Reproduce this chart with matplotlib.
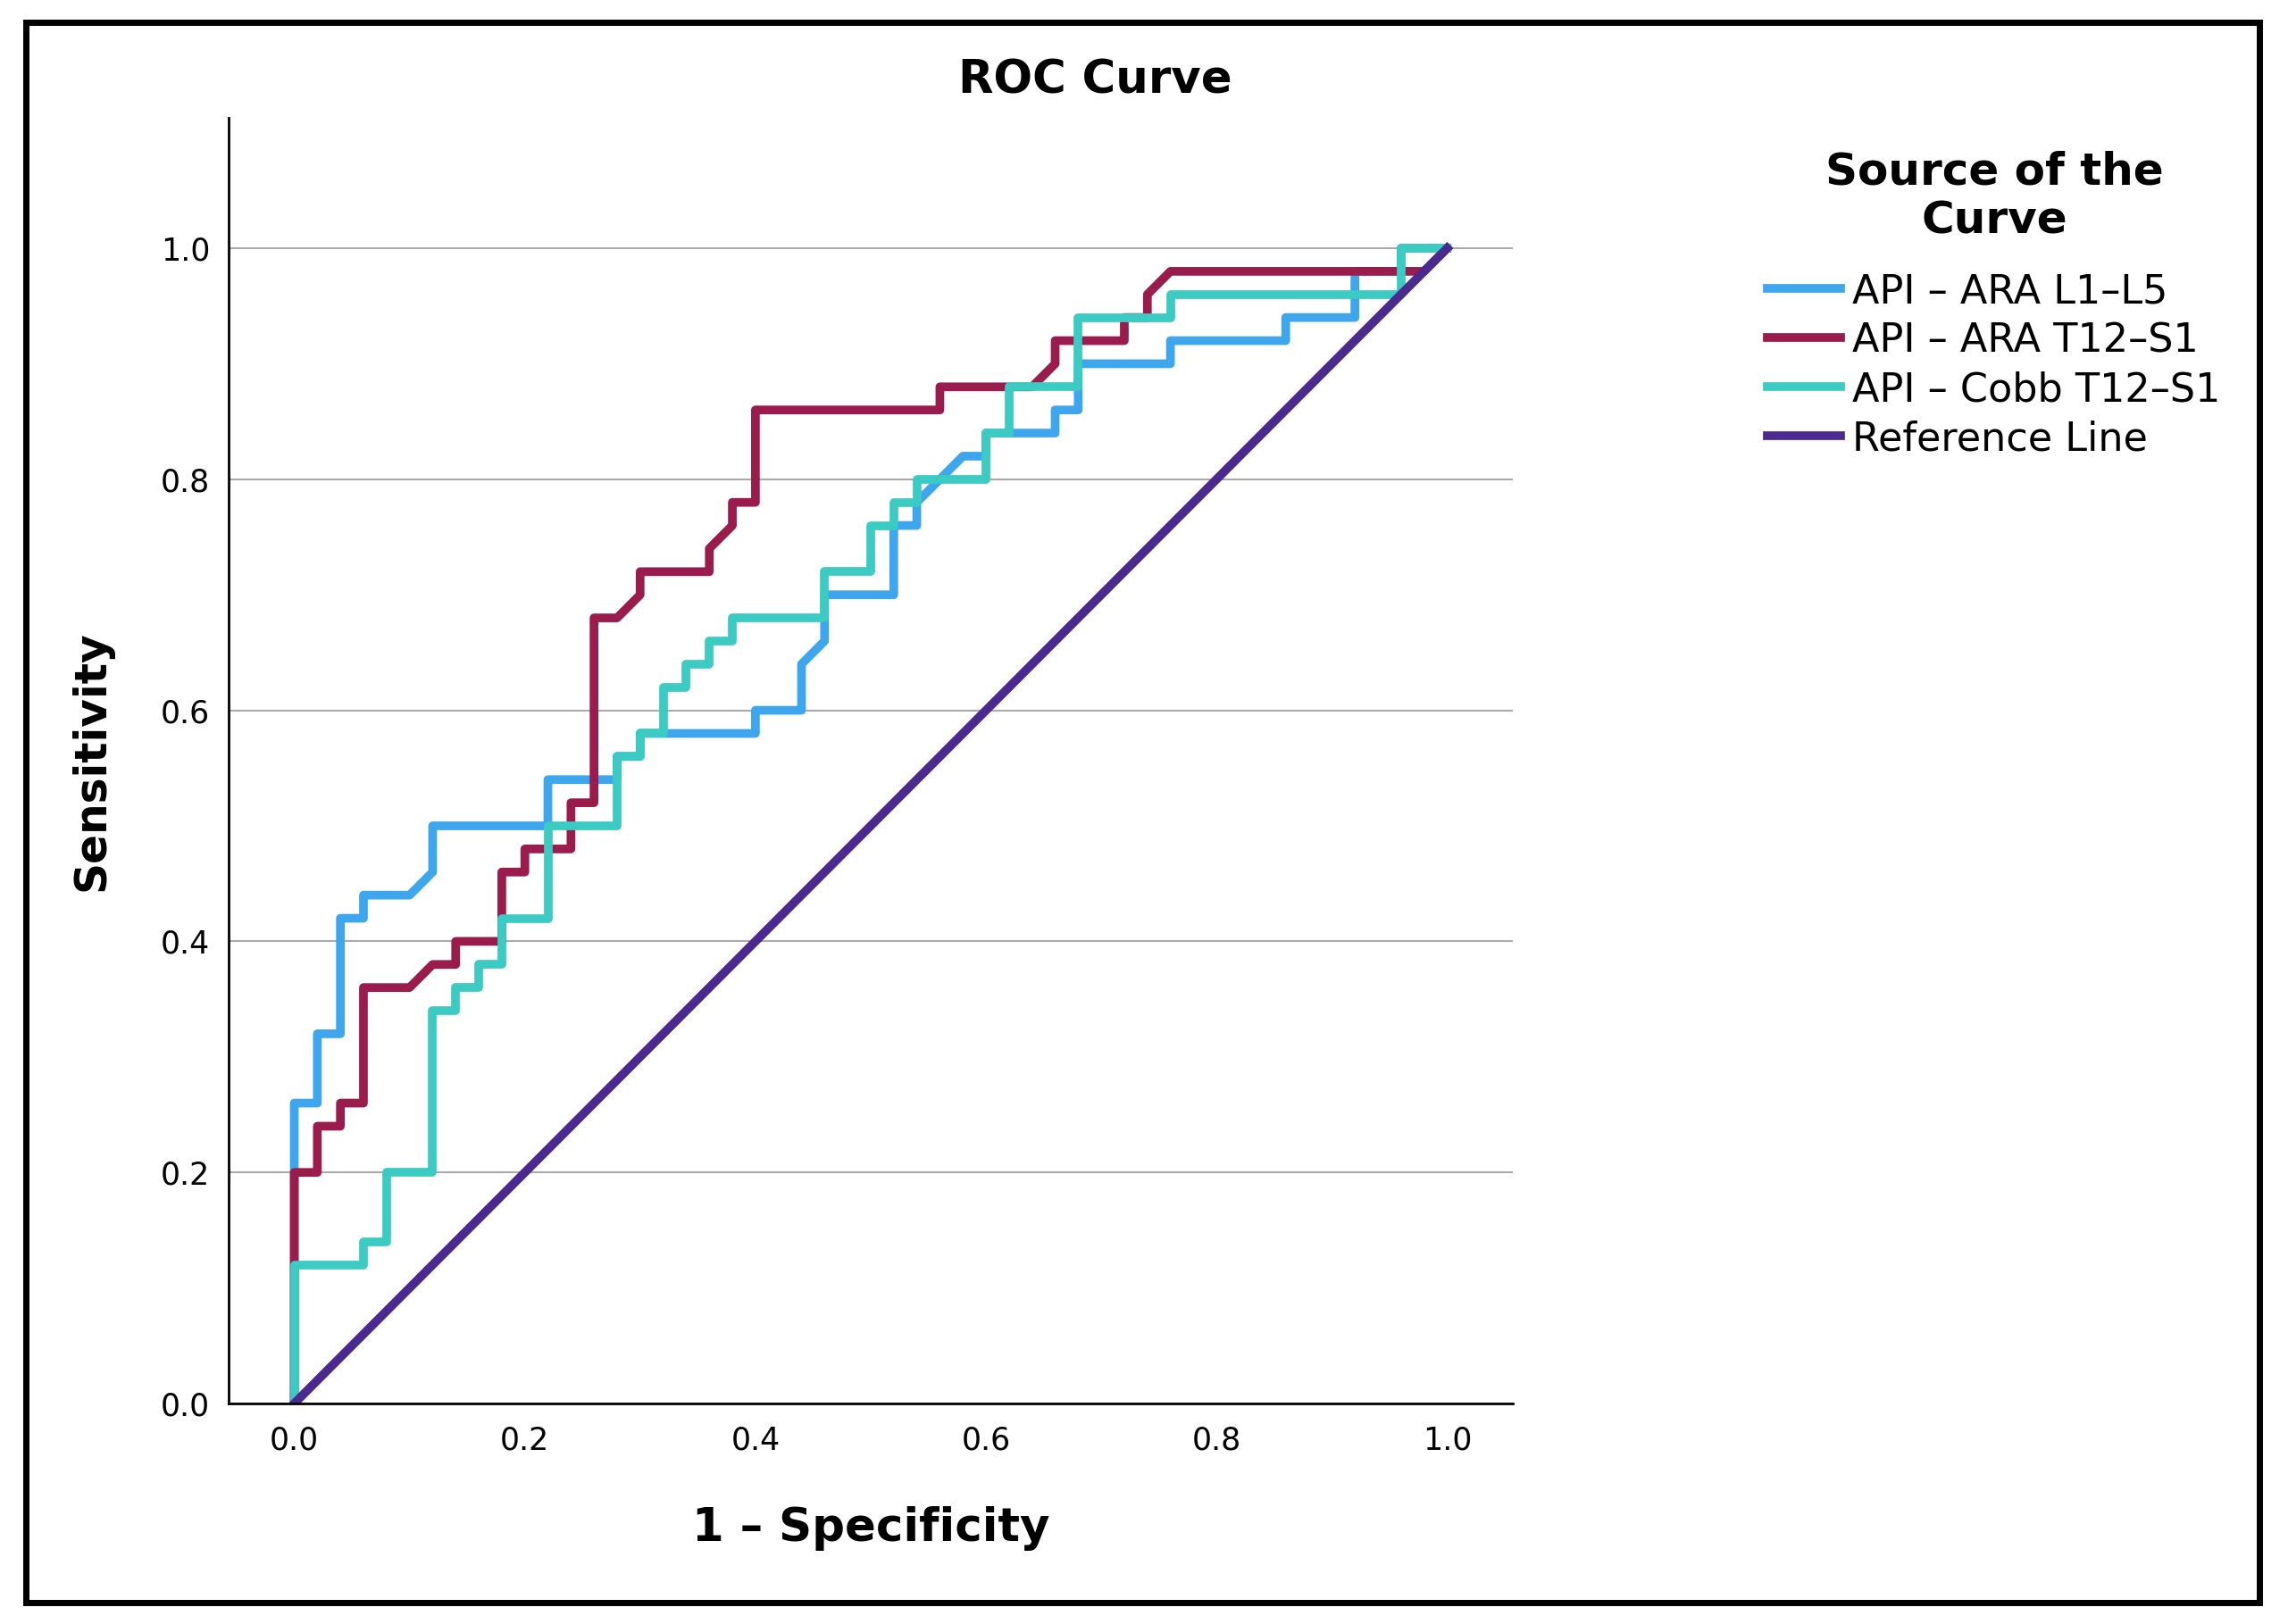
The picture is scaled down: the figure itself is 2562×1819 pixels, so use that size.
import matplotlib
matplotlib.use("Agg")
import matplotlib.pyplot as plt
from matplotlib.patches import Rectangle

# ROC step curves (1 - specificity, sensitivity)
fpr_l1l5 = [0, 0, 0.02, 0.02, 0.04, 0.04, 0.06, 0.06, 0.10, 0.12, 0.12, 0.22, 0.22, 0.28, 0.28,
            0.30, 0.30, 0.40, 0.40, 0.44, 0.44, 0.46, 0.46, 0.52, 0.52, 0.54, 0.54, 0.58, 0.60,
            0.60, 0.66, 0.66, 0.68, 0.68, 0.76, 0.76, 0.86, 0.86, 0.92, 0.92, 0.96, 0.96, 1.0]
tpr_l1l5 = [0, 0.26, 0.26, 0.32, 0.32, 0.42, 0.42, 0.44, 0.44, 0.46, 0.50, 0.50, 0.54, 0.54, 0.56,
            0.56, 0.58, 0.58, 0.60, 0.60, 0.64, 0.66, 0.70, 0.70, 0.76, 0.76, 0.78, 0.82, 0.82,
            0.84, 0.84, 0.86, 0.86, 0.90, 0.90, 0.92, 0.92, 0.94, 0.94, 0.98, 0.98, 1.0, 1.0]

fpr_t12s1 = [0, 0, 0.02, 0.02, 0.04, 0.04, 0.06, 0.06, 0.10, 0.12, 0.14, 0.14, 0.18, 0.18, 0.20,
             0.20, 0.24, 0.24, 0.26, 0.26, 0.28, 0.30, 0.30, 0.36, 0.36, 0.38, 0.38, 0.40, 0.40,
             0.56, 0.56, 0.64, 0.66, 0.66, 0.72, 0.72, 0.74, 0.74, 0.76, 0.98, 1.0]
tpr_t12s1 = [0, 0.20, 0.20, 0.24, 0.24, 0.26, 0.26, 0.36, 0.36, 0.38, 0.38, 0.40, 0.40, 0.46, 0.46,
             0.48, 0.48, 0.52, 0.52, 0.68, 0.68, 0.70, 0.72, 0.72, 0.74, 0.76, 0.78, 0.78, 0.86,
             0.86, 0.88, 0.88, 0.90, 0.92, 0.92, 0.94, 0.94, 0.96, 0.98, 0.98, 1.0]

fpr_cobb = [0, 0, 0.06, 0.06, 0.08, 0.08, 0.12, 0.12, 0.14, 0.14, 0.16, 0.16, 0.18, 0.18, 0.22,
            0.22, 0.28, 0.28, 0.30, 0.30, 0.32, 0.32, 0.34, 0.34, 0.36, 0.36, 0.38, 0.38, 0.46,
            0.46, 0.50, 0.50, 0.52, 0.52, 0.54, 0.54, 0.60, 0.60, 0.62, 0.62, 0.68, 0.68, 0.76,
            0.76, 0.96, 0.96, 1.0]
tpr_cobb = [0, 0.12, 0.12, 0.14, 0.14, 0.20, 0.20, 0.34, 0.34, 0.36, 0.36, 0.38, 0.38, 0.42, 0.42,
            0.50, 0.50, 0.56, 0.56, 0.58, 0.58, 0.62, 0.62, 0.64, 0.64, 0.66, 0.66, 0.68, 0.68,
            0.72, 0.72, 0.76, 0.76, 0.78, 0.78, 0.80, 0.80, 0.84, 0.84, 0.88, 0.88, 0.94, 0.94,
            0.96, 0.96, 1.0, 1.0]

ref_x = [0, 1]
ref_y = [0, 1]

labels = ["API – ARA L1–L5", "API – ARA T12–S1", "API – Cobb T12–S1", "Reference Line"]
colors = ["#3EA6EC", "#9A1C4C", "#3BCBC3", "#4A2A8E"]

plt.rcParams['font.family'] = ['DejaVu Sans']

fig = plt.figure(figsize=(25.62, 18.19), dpi=100)
ax = fig.add_axes([0.0999, 0.1358, 0.5613, 0.7916])

lw = 7
ax.plot(fpr_l1l5, tpr_l1l5, color=colors[0], lw=lw, label=labels[0])
ax.plot(fpr_t12s1, tpr_t12s1, color=colors[1], lw=lw, label=labels[1])
ax.plot(fpr_cobb, tpr_cobb, color=colors[2], lw=lw, label=labels[2])
ax.plot(ref_x, ref_y, color=colors[3], lw=lw, label=labels[3])

ax.set_xlim(-0.057, 1.057)
ax.set_ylim(0, 1.1128)
ticks = [0, 0.2, 0.4, 0.6, 0.8, 1.0]
ax.set_xticks(ticks)
ax.set_yticks(ticks)
ax.set_xticklabels([f"{t:.1f}" for t in ticks], fontsize=25)
ax.set_yticklabels([f"{t:.1f}" for t in ticks], fontsize=25)
ax.tick_params(axis='both', length=0)
ax.tick_params(axis='x', pad=18)
ax.tick_params(axis='y', pad=15)

ax.yaxis.grid(True, color="#aaaaaa", lw=1.5)
ax.set_axisbelow(True)
for s in ["top", "right"]:
    ax.spines[s].set_visible(False)
for s in ["left", "bottom"]:
    ax.spines[s].set_linewidth(2)
    ax.spines[s].set_color("black")

ax.set_xlabel("1 – Specificity", fontsize=37, fontweight="bold")
ax.xaxis.label.set_va("center")
ax.xaxis.set_label_coords(0.5, -0.097)
ax.set_ylabel("Sensitivity", fontsize=35, fontweight="bold")
ax.yaxis.label.set_va("center")
ax.yaxis.set_label_coords(-0.107, 0.5)

fig.text(0.4785, 0.9505, "ROC Curve", fontsize=37, fontweight="bold", ha="center", va="center")

leg = ax.legend(loc="upper left", bbox_to_anchor=(0.7724, 0.9076), bbox_transform=fig.transFigure,
                frameon=False, fontsize=32, title="Source of the\nCurve",
                title_fontproperties={"size": 36, "weight": "bold"},
                handlelength=1.85, handletextpad=0.3, labelspacing=0.27,
                borderpad=0, borderaxespad=0)
leg.get_title().set_multialignment("center")
leg._legend_box.sep = 24
for line in leg.get_lines():
    line.set_linewidth(7)

# outer frame
fig.patches.append(Rectangle((0.0113, 0.0132), 0.9762, 0.9731, transform=fig.transFigure,
                             fill=False, edgecolor="black", lw=5))

fig.savefig("out.png", dpi=100)
